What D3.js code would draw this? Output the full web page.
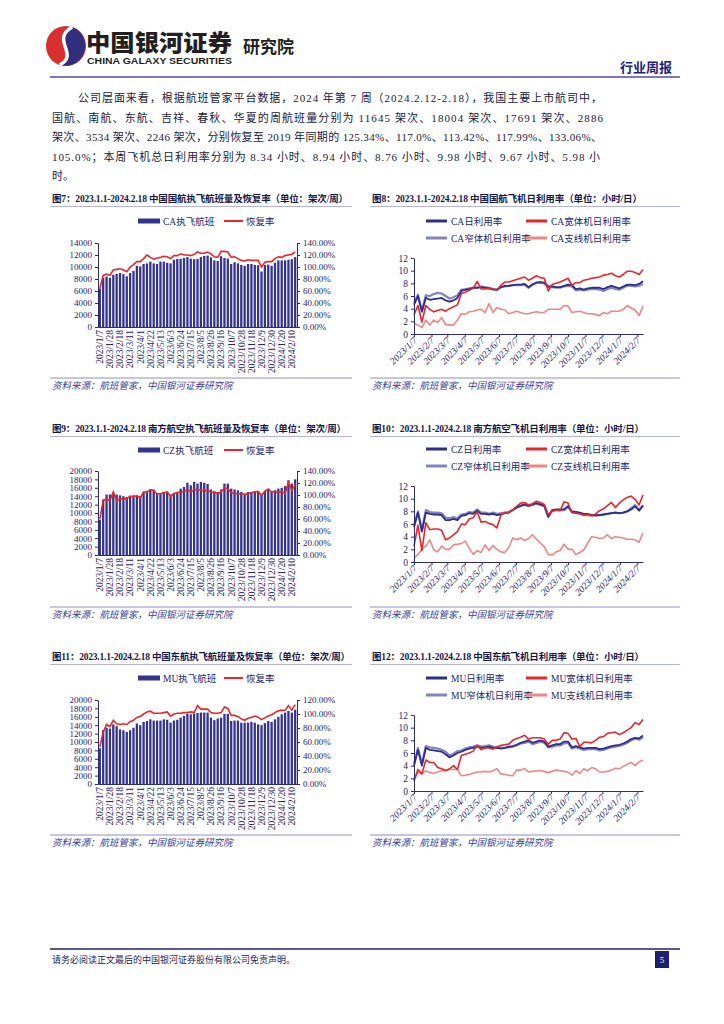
<!DOCTYPE html>
<html>
<head>
<meta charset="utf-8">
<script src="https://cdn.jsdelivr.net/npm/d3@7"></script>
<style>
  body { margin: 0; background: #fff; }
  svg { display: block; }
</style>
</head>
<body>
<svg id="page" width="724" height="1024"></svg>
<script>
// weekly points, 2023/1/7 .. 2024/2/17
var weeks = ["2023/1/7","2023/1/14","2023/1/21","2023/1/28","2023/2/4","2023/2/11","2023/2/18","2023/2/25","2023/3/4","2023/3/11",
  "2023/3/18","2023/3/25","2023/4/1","2023/4/8","2023/4/15","2023/4/22","2023/4/29","2023/5/6","2023/5/13","2023/5/20",
  "2023/5/27","2023/6/3","2023/6/10","2023/6/17","2023/6/24","2023/7/1","2023/7/8","2023/7/15","2023/7/22","2023/7/29",
  "2023/8/5","2023/8/12","2023/8/19","2023/8/26","2023/9/2","2023/9/9","2023/9/16","2023/9/23","2023/9/30","2023/10/7",
  "2023/10/14","2023/10/21","2023/10/28","2023/11/4","2023/11/11","2023/11/18","2023/11/25","2023/12/2","2023/12/9","2023/12/16",
  "2023/12/23","2023/12/30","2024/1/6","2024/1/13","2024/1/20","2024/1/27","2024/2/3","2024/2/10","2024/2/17"];
var monthTicks = ["2023/1/7","2023/2/7","2023/3/7","2023/4/7","2023/5/7","2023/6/7","2023/7/7","2023/8/7","2023/9/7",
  "2023/10/7","2023/11/7","2023/12/7","2024/1/7","2024/2/7"];

// flights per week and recovery vs 2019 (%)
var caFlights = [6400,8200,8400,8200,8700,8850,9000,8800,8450,9000,9350,10200,10100,10500,10600,10900,10600,10500,10900,10900,
  10700,10600,11200,11350,11350,11500,11650,11400,11300,11350,11650,11850,11900,11600,11100,11000,11800,11500,11400,10500,
  10800,10600,10350,10200,10500,10500,10350,10300,9250,10350,10400,10200,10700,11100,11100,11100,11200,11300,11645];
var caRate = [64,86,88,86,95,96,97,95,92,100,104,109,109,114,120,116,113,115,116,118,
  117,114,119,119,122,120,120,119,121,125,123,123,125,122,117,116,126,126,125,116,
  117,114,111,110,112,111,111,111,100,108,109,109,114,117,116,119,120,121,125.34];
var czFlights = [8400,13200,14400,14400,14800,14400,14200,14000,13800,14000,14200,14000,14000,15000,15200,15600,15600,14600,14600,14800,
  15100,14400,14800,15000,15800,16200,17200,16600,17400,17000,17400,17200,16900,15600,15200,15000,15600,17000,17000,15800,
  15600,15400,15000,14600,15000,15000,15100,15200,14600,15300,15600,15200,15400,15800,16000,16400,17800,17000,18004];
var czRate = [60,91,93.5,90.7,105,91,93.5,94,93.5,98,97,99,95,105,105,109,107,102,102,104,
  105,98,102,104,105,106,109,105,109,109,108,108,107,105,104,102,105,112,110,104,
  102,102,102,101,102,104,105,106,99,106,110,105,106,104,106,102,121,108,117.0];
var muFlights = [8500,12800,13400,13200,14200,13800,13000,12800,12400,12800,13400,14400,14000,14800,15000,15400,15100,15100,15100,15400,
  15300,14600,15100,15300,15800,16200,16700,16600,16800,16900,17000,17000,17000,15800,15200,15600,15800,16700,16700,15000,
  15100,15100,14600,14600,14600,14800,14600,14200,14000,14500,15000,14800,15400,16000,16600,17000,17400,17000,17691];
var muRate = [53,74,85,82,91,86,85,86,85,89,91,95,96.5,100,103,104,101,101,101,102,
  103,97,100,101,101,102,102,103,102,112,107,107,107,102,101,101,102,110,108,98,
  98,96.5,93,91,94,95,97,95.5,92,94.5,97,99,102,104.5,105.5,105,112,105.5,113.42];

// daily utilisation, hours
var caDaily = [4.6,6.0,3.5,5.7,5.4,5.5,5.6,5.7,5.3,5.1,5.3,5.7,6.8,7.0,7.1,7.3,7.3,7.4,7.3,7.2,
  7.0,7.0,7.4,7.6,7.6,7.7,7.8,7.8,7.9,7.4,7.8,8.1,8.2,8.1,7.5,7.5,7.4,7.4,7.6,7.8,
  7.7,7.1,7.2,7.0,7.2,7.3,7.3,7.3,7.1,7.4,7.6,7.4,7.2,7.5,7.8,7.8,7.7,7.9,8.34];
var caNarrow = [4.9,6.2,3.7,6.1,6.0,6.3,6.5,6.4,6.0,5.6,5.8,6.1,7.0,7.0,7.2,7.3,7.3,7.5,7.4,7.3,
  7.1,7.0,7.4,7.5,7.6,7.7,7.7,7.7,7.8,7.3,7.8,8.1,8.1,8.0,7.4,7.4,7.3,7.3,7.5,7.6,
  7.5,6.9,7.0,6.9,7.0,7.1,7.1,7.0,6.8,7.1,7.3,7.1,7.0,7.3,7.6,7.6,7.5,7.6,7.9];
var caWide = [3.0,4.5,1.9,4.5,3.9,3.5,3.7,3.9,3.6,4.0,4.3,4.6,6.4,6.6,6.9,7.2,8.3,7.1,7.1,7.2,
  7.1,6.9,7.7,8.2,8.2,8.4,8.6,8.8,9.0,8.5,8.8,9.2,8.9,8.8,6.8,7.8,8.0,8.2,8.5,8.8,
  7.7,8.1,8.1,8.5,8.6,8.8,8.9,9.0,9.3,9.4,9.6,9.2,9.0,9.4,9.9,9.9,9.7,9.4,10.2];
var caRegional = [1.7,1.4,1.0,2.2,1.4,2.2,1.8,2.6,1.5,1.4,1.4,2.2,3.2,3.1,3.5,3.6,3.8,3.9,3.4,4.8,
  3.4,4.2,3.9,3.8,3.2,3.4,3.6,3.4,3.2,3.2,3.4,3.5,3.4,3.4,3.9,3.9,3.9,3.9,4.5,4.4,
  3.4,3.5,3.6,3.4,3.2,3.2,3.1,2.9,3.4,3.2,3.6,3.6,3.6,3.9,4.5,4.1,3.8,2.9,4.4];
var czDaily = [5.5,7.8,4.8,7.8,7.6,7.5,7.5,7.4,6.6,6.6,6.8,6.6,7.3,7.4,7.7,7.6,8.1,7.6,7.6,7.5,
  7.6,7.4,7.5,7.7,7.8,8.2,8.6,8.9,9.1,8.9,9.1,9.3,9.1,8.9,7.2,8.2,8.3,8.3,8.3,8.8,
  8.0,7.9,7.8,7.6,7.6,7.4,7.4,7.4,7.5,7.6,7.7,7.8,7.7,7.8,8.0,8.3,8.8,8.1,8.94];
var czNarrow = [5.8,8.0,5.0,8.2,7.9,7.8,7.8,7.7,7.0,6.9,7.1,6.9,7.5,7.6,7.9,7.8,8.3,7.8,7.8,7.6,
  7.8,7.6,7.7,7.8,7.9,8.2,8.6,8.8,9.0,8.8,9.0,9.2,9.0,8.8,7.1,8.1,8.2,8.2,8.2,8.7,
  7.9,7.8,7.7,7.5,7.4,7.3,7.3,7.4,7.5,7.6,7.7,7.8,7.7,7.8,8.0,8.5,9.0,8.2,8.9];
var czWide = [2.5,5.8,1.8,6.2,5.1,5.2,5.2,5.0,3.5,3.8,4.3,4.8,6.0,5.9,6.8,7.0,7.9,6.3,6.4,6.1,
  5.9,5.4,7.4,7.8,7.8,8.2,8.8,9.3,9.4,9.0,9.2,9.6,9.4,9.1,7.5,8.0,8.2,8.1,9.5,9.3,
  7.8,7.7,7.6,7.4,7.5,7.3,7.6,8.1,8.4,8.9,9.4,8.6,9.3,9.8,10.2,10.4,9.9,9.0,10.6];
var czRegional = [0.6,1.2,2.0,2.5,3.5,1.9,1.6,2.5,2.0,2.0,2.7,2.8,2.9,3.3,2.2,1.2,1.8,1.5,2.7,1.8,
  2.6,2.0,1.6,1.5,2.3,3.8,3.5,3.8,3.4,3.7,4.3,3.6,3.0,2.4,1.2,1.1,1.6,1.8,2.8,2.0,
  2.0,1.2,1.5,1.9,3.0,4.0,3.9,3.7,3.8,4.3,3.7,4.0,3.9,3.8,3.6,3.6,3.5,3.1,4.6];
var muDaily = [4.0,6.5,4.0,6.8,6.5,6.4,6.3,6.2,5.8,5.3,5.6,6.0,6.2,6.5,6.7,6.8,7.0,6.8,6.9,7.0,
  6.8,6.8,6.7,6.8,7.0,7.1,7.3,7.6,7.8,8.0,7.6,7.8,8.0,7.8,7.0,7.2,7.4,7.4,7.8,7.8,
  6.9,7.1,6.9,6.7,6.8,6.8,6.8,6.6,6.7,6.9,7.1,7.2,7.3,7.5,7.8,8.2,8.4,8.3,8.76];
var muNarrow = [4.3,6.8,4.3,7.1,6.9,6.8,6.7,6.5,6.2,5.6,5.9,6.3,6.4,6.7,6.9,7.0,7.2,7.0,7.1,7.2,
  7.0,6.9,6.8,6.8,6.9,7.0,7.2,7.5,7.6,7.8,7.4,7.6,7.8,7.6,6.9,7.0,7.2,7.2,7.5,7.6,
  6.7,6.9,6.7,6.5,6.6,6.6,6.6,6.4,6.5,6.7,6.9,7.0,7.1,7.3,7.6,8.0,8.3,8.1,8.5];
var muWide = [1.6,3.4,2.7,4.9,4.5,4.5,3.7,3.5,3.2,3.5,4.0,3.4,5.6,5.8,6.0,6.3,7.2,6.5,6.8,6.8,
  6.6,7.0,7.2,7.3,7.4,8.0,8.3,8.5,8.8,8.2,8.4,8.4,8.4,8.2,7.4,8.0,8.0,8.2,9.2,9.1,
  8.2,8.3,7.0,7.7,7.7,7.6,8.0,8.5,8.6,9.1,9.2,9.3,8.9,9.2,9.6,10.0,10.8,10.5,11.3];
var muRegional = [1.8,3.0,2.7,3.2,2.9,2.8,3.0,3.2,3.3,3.4,3.4,3.4,2.4,2.5,2.6,2.8,3.0,3.0,3.1,3.0,
  3.2,3.5,2.7,2.6,2.5,2.4,3.3,3.3,3.5,3.0,3.1,3.2,3.2,3.1,2.9,3.1,3.3,3.2,3.1,3.0,
  2.5,3.2,2.8,3.5,3.2,3.7,3.5,3.0,3.0,3.1,3.3,3.6,3.5,3.9,4.2,4.5,4.0,4.6,4.9];

var paragraph = [
  "公司层面来看，根据航班管家平台数据，2024 年第 7 周（2024.2.12-2.18），我国主要上市航司中，",
  "国航、南航、东航、吉祥、春秋、华夏的周航班量分别为 11645 架次、18004 架次、17691 架次、2886",
  "架次、3534 架次、2246 架次，分别恢复至 2019 年同期的 125.34%、117.0%、113.42%、117.99%、133.06%、",
  "105.0%；本周飞机总日利用率分别为 8.34 小时、8.94 小时、8.76 小时、9.98 小时、9.67 小时、5.98 小",
  "时。"
];

var SERIF = "'Liberation Serif','Noto Sans CJK SC',serif";
var BAR = "#34348c", AXIS = "#2a2a7e", LABEL = "#25256c", RED = "#e8262b",
    DARK = "#2e2e86", LIGHT = "#8383c3", PINK = "#f08585", SRC = "#3b3b98";

var svg = d3.select("#page");
var parse = d3.timeParse("%Y/%m/%d");
var fmtDate = d3.timeFormat("%Y/%-m/%-d");

// ---------- header ----------
var logo = svg.append("g");
logo.append("circle").attr("cx", 66).attr("cy", 46).attr("r", 20).attr("fill", "#d8302c");
logo.append("path").attr("d", "M72.2,27 A20,20 0 0 1 59.8,65 C80,54 50,40 72.2,27 Z").attr("fill", "#2f2f7e");
logo.append("path").attr("d", "M72.2,27 C50,40 80,54 59.8,65").attr("fill", "none")
  .attr("stroke", "#fff").attr("stroke-width", 3.5);
svg.append("text").attr("x", 86).attr("y", 51).text("中国银河证券")
  .attr("font-family", "'Noto Sans CJK SC'").attr("font-weight", 900).attr("font-size", 23)
  .attr("fill", "#231f20").attr("textLength", 146).attr("lengthAdjust", "spacingAndGlyphs");
svg.append("text").attr("x", 87).attr("y", 64).text("CHINA GALAXY SECURITIES")
  .attr("font-family", "'Liberation Sans',Arial").attr("font-weight", "bold").attr("font-size", 9)
  .attr("fill", "#231f20").attr("textLength", 145).attr("lengthAdjust", "spacingAndGlyphs");
svg.append("text").attr("x", 243).attr("y", 53).text("研究院")
  .attr("font-family", "'Noto Sans CJK SC'").attr("font-weight", "bold").attr("font-size", 17).attr("fill", "#231f20");
svg.append("text").attr("x", 672).attr("y", 72).attr("text-anchor", "end").text("行业周报")
  .attr("font-family", "'Noto Sans CJK SC'").attr("font-weight", "bold").attr("font-size", 13).attr("fill", "#1d1d80");
svg.append("line").attr("x1", 50).attr("x2", 680).attr("y1", 77).attr("y2", 77)
  .attr("stroke", "#4d4dab").attr("stroke-width", 1.5);

// ---------- paragraph ----------
var lineStarts = [78, 52, 52, 52, 52], lineEnds = [602, 603, 602, 600, null];
paragraph.forEach(function(s, i) {
  var t = svg.append("text").attr("x", lineStarts[i]).attr("y", 102 + i * 19.5).text(s)
    .attr("font-family", SERIF).attr("font-size", 11).attr("fill", "#20203c");
  if (lineEnds[i]) t.attr("textLength", lineEnds[i] - lineStarts[i]).attr("lengthAdjust", "spacing");
});

// ---------- helpers ----------
function frame(o) {
  svg.append("text").attr("x", o.x0 + 2).attr("y", o.titleY).text(o.title)
    .attr("font-family", SERIF).attr("font-weight", "bold").attr("font-size", 9.5).attr("fill", "#15154a")
    .attr("textLength", o.titleW).attr("lengthAdjust", "spacing");
  svg.append("line").attr("x1", o.x0).attr("x2", o.x1).attr("y1", o.titleY + 4.5).attr("y2", o.titleY + 4.5)
    .attr("stroke", "#b4b4d8").attr("stroke-width", 1);
  svg.append("line").attr("x1", o.x0).attr("x2", o.x1).attr("y1", o.srcY).attr("y2", o.srcY)
    .attr("stroke", "#8e8ec8").attr("stroke-width", 1);
  svg.append("text").attr("x", o.x0 + 2).attr("y", o.srcY + 11).text("资料来源：航班管家，中国银河证券研究院")
    .attr("font-family", SERIF).attr("font-style", "italic").attr("font-size", 9.5).attr("fill", SRC);
}

function styleAxis(g) {
  g.attr("font-family", SERIF).attr("font-size", 9);
  g.select(".domain").attr("stroke", AXIS);
  g.selectAll(".tick line").attr("stroke", AXIS);
  g.selectAll(".tick text").attr("fill", LABEL);
}

function barChart(o) {
  frame(o);
  var x = d3.scaleBand().domain(weeks).range([o.left, o.right]).paddingInner(0.32).paddingOuter(0.2);
  var y = d3.scaleLinear().domain([0, o.maxL]).range([o.bottom, o.top]);
  var y2 = d3.scaleLinear().domain([0, o.maxR]).range([o.bottom, o.top]);

  svg.append("g").selectAll("rect").data(o.flights).join("rect")
    .attr("x", function(d, i) { return x(weeks[i]); })
    .attr("y", function(d) { return y(d); })
    .attr("width", x.bandwidth())
    .attr("height", function(d) { return o.bottom - y(d); })
    .attr("fill", BAR);

  var line = d3.line()
    .x(function(d, i) { return x(weeks[i]) + x.bandwidth() / 2; })
    .y(function(d) { return y2(d); });
  svg.append("path").datum(o.rate).attr("d", line)
    .attr("fill", "none").attr("stroke", RED).attr("stroke-width", 1.6);

  var gl = svg.append("g").attr("transform", "translate(" + o.left + ",0)")
    .call(d3.axisLeft(y).tickValues(d3.range(0, o.maxL + 1, o.stepL)).tickSize(3).tickSizeOuter(0).tickFormat(d3.format("d")));
  styleAxis(gl);
  var gr = svg.append("g").attr("transform", "translate(" + o.right + ",0)")
    .call(d3.axisRight(y2).tickValues(d3.range(0, o.maxR + 0.1, o.stepR)).tickSize(3).tickSizeOuter(0)
      .tickFormat(function(d) { return d.toFixed(2) + "%"; }));
  styleAxis(gr);
  var gb = svg.append("g").attr("transform", "translate(0," + o.bottom + ")")
    .call(d3.axisBottom(x).tickValues(weeks.filter(function(d, i) { return i % 3 === 0; })).tickSize(0).tickSizeOuter(0));
  styleAxis(gb);
  gb.attr("font-size", 9.5);
  gb.selectAll(".tick text").attr("transform", "rotate(-90)").attr("x", -3).attr("y", 0).attr("dy", "0.35em")
    .style("text-anchor", "end");

  // legend
  var ly = o.legendY;
  svg.append("rect").attr("x", 138).attr("y", ly - 2.5).attr("width", 22).attr("height", 5).attr("fill", BAR);
  svg.append("text").attr("x", 163).attr("y", ly + 3.5).text(o.name)
    .attr("font-family", SERIF).attr("font-size", 9.5).attr("fill", LABEL);
  svg.append("line").attr("x1", 224).attr("x2", 243).attr("y1", ly).attr("y2", ly)
    .attr("stroke", RED).attr("stroke-width", 2);
  svg.append("text").attr("x", 246).attr("y", ly + 3.5).text("恢复率")
    .attr("font-family", SERIF).attr("font-size", 9.5).attr("fill", LABEL);
}

function lineChart(o) {
  frame(o);
  var x = d3.scaleTime().domain([parse(weeks[0]), parse(weeks[weeks.length - 1])]).range([o.left, o.right]);
  var y = d3.scaleLinear().domain([0, 12]).range([o.bottom, o.top]);
  var series = [
    { name: o.code + "窄体机日利用率", values: o.narrow, color: LIGHT, w: 2.2 },
    { name: o.code + "日利用率", values: o.daily, color: DARK, w: 1.8 },
    { name: o.code + "支线机日利用率", values: o.regional, color: PINK, w: 1.6 },
    { name: o.code + "宽体机日利用率", values: o.wide, color: RED, w: 1.6 }
  ];
  var line = d3.line()
    .x(function(d, i) { return x(parse(weeks[i])); })
    .y(function(d) { return y(d); });
  series.forEach(function(s) {
    svg.append("path").datum(s.values).attr("d", line)
      .attr("fill", "none").attr("stroke", s.color).attr("stroke-width", s.w).attr("stroke-linejoin", "round");
  });

  var gl = svg.append("g").attr("transform", "translate(" + o.left + ",0)")
    .call(d3.axisLeft(y).tickValues(d3.range(0, 13, 2)).tickSize(3).tickSizeOuter(0));
  styleAxis(gl);
  gl.attr("font-size", 9.5);
  var gb = svg.append("g").attr("transform", "translate(0," + o.bottom + ")")
    .call(d3.axisBottom(x).tickValues(monthTicks.map(parse)).tickFormat(fmtDate).tickSize(3).tickSizeOuter(0));
  styleAxis(gb);
  gb.attr("font-size", 9.5).attr("font-style", "italic");
  gb.selectAll(".tick text").attr("x", 0).attr("y", 0).attr("dy", 0)
    .attr("transform", "translate(3,7) rotate(-45)").style("text-anchor", "end");

  // legend: two rows, two columns
  var order = [series[1], series[3], series[0], series[2]];
  order.forEach(function(s, i) {
    var lx = i % 2 === 0 ? 426 : 526;
    var ly = i < 2 ? o.legendY : o.legendY + 17;
    svg.append("line").attr("x1", lx).attr("x2", lx + 21).attr("y1", ly).attr("y2", ly)
      .attr("stroke", s.color).attr("stroke-width", 3);
    svg.append("text").attr("x", lx + 25).attr("y", ly + 3.5).text(s.name)
      .attr("font-family", SERIF).attr("font-size", 9.5).attr("fill", LABEL);
  });
}

// ---------- charts ----------
barChart({ x0: 50, x1: 352, title: "图7：2023.1.1-2024.2.18 中国国航执飞航班量及恢复率（单位：架次/周）", titleY: 202, titleW: 296,
  srcY: 378, legendY: 221, left: 98, right: 297, top: 243, bottom: 327,
  maxL: 14000, stepL: 2000, maxR: 140, stepR: 20, flights: caFlights, rate: caRate, name: "CA执飞航班" });
lineChart({ x0: 370, x1: 680, title: "图8：2023.1.1-2024.2.18 中国国航飞机日利用率（单位：小时/日）", titleY: 202, titleW: 270,
  srcY: 378, legendY: 221, left: 414, right: 643, top: 258, bottom: 334, code: "CA",
  daily: caDaily, narrow: caNarrow, wide: caWide, regional: caRegional });

barChart({ x0: 50, x1: 352, title: "图9：2023.1.1-2024.2.18 南方航空执飞航班量及恢复率（单位：架次/周）", titleY: 432, titleW: 294,
  srcY: 607, legendY: 450, left: 98, right: 297, top: 471, bottom: 555,
  maxL: 20000, stepL: 2000, maxR: 140, stepR: 20, flights: czFlights, rate: czRate, name: "CZ执飞航班" });
lineChart({ x0: 370, x1: 680, title: "图10：2023.1.1-2024.2.18 南方航空飞机日利用率（单位：小时/日）", titleY: 432, titleW: 272,
  srcY: 607, legendY: 449, left: 414, right: 643, top: 486, bottom: 562, code: "CZ",
  daily: czDaily, narrow: czNarrow, wide: czWide, regional: czRegional });

barChart({ x0: 50, x1: 352, title: "图11：2023.1.1-2024.2.18 中国东航执飞航班量及恢复率（单位：架次/周）", titleY: 660, titleW: 298,
  srcY: 835, legendY: 678, left: 98, right: 297, top: 700, bottom: 784,
  maxL: 20000, stepL: 2000, maxR: 120, stepR: 20, flights: muFlights, rate: muRate, name: "MU执飞航班" });
lineChart({ x0: 370, x1: 680, title: "图12：2023.1.1-2024.2.18 中国东航飞机日利用率（单位：小时/日）", titleY: 660, titleW: 272,
  srcY: 835, legendY: 678, left: 414, right: 643, top: 715, bottom: 791, code: "MU",
  daily: muDaily, narrow: muNarrow, wide: muWide, regional: muRegional });

// ---------- footer ----------
svg.append("line").attr("x1", 50).attr("x2", 680).attr("y1", 949).attr("y2", 949)
  .attr("stroke", "#1f1f6f").attr("stroke-width", 1.5);
svg.append("text").attr("x", 52).attr("y", 963).text("请务必阅读正文最后的中国银河证券股份有限公司免责声明。")
  .attr("font-family", SERIF).attr("font-size", 9).attr("fill", "#1c1c50");
svg.append("rect").attr("x", 655).attr("y", 951).attr("width", 14).attr("height", 17).attr("fill", "#1f1f70");
svg.append("text").attr("x", 662).attr("y", 963).attr("text-anchor", "middle").text("5")
  .attr("font-family", SERIF).attr("font-size", 9).attr("fill", "#fff");
</script>
</body>
</html>
